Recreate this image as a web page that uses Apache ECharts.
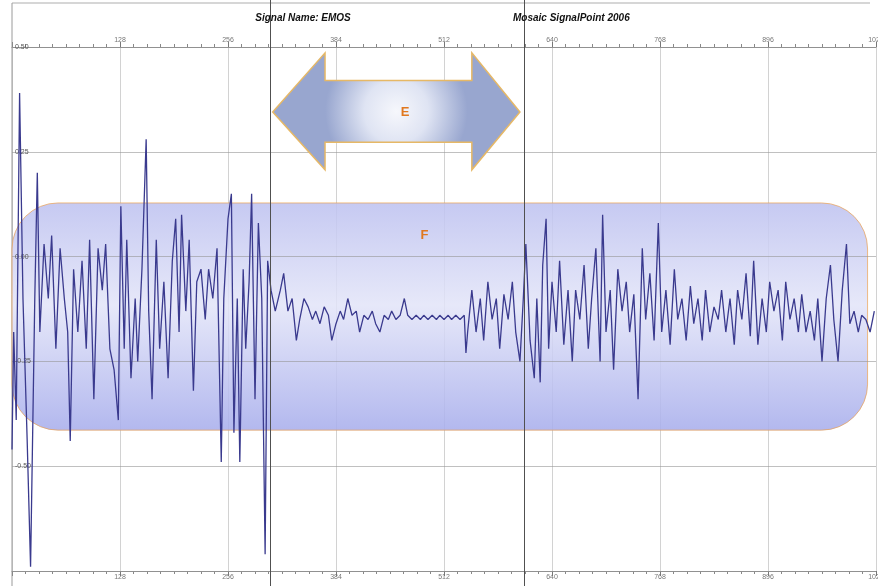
<!DOCTYPE html>
<html><head><meta charset="utf-8">
<script src="https://cdn.jsdelivr.net/npm/echarts@6/dist/echarts.min.js"></script>
<style>html,body{margin:0;padding:0;background:#fff}#c{width:878px;height:586px}</style>
</head><body><div id="c"></div>
<script>
// ---- data ----
const sampleIndex = [
  0,2,5,9,13,18,22,27,30,33,38,43,47,52,57,62,66,69,73,78,83,88,92,97,102,107,111,116,121,126,
  129,133,136,141,146,149,154,159,162,166,171,175,180,185,190,194,198,201,206,210,215,219,224,229,233,238,243,248,251,256,
  260,263,267,270,274,277,281,284,288,292,296,300,303,307,
  312,318,322,327,332,337,341,346,351,356,360,365,370,375,379,384,389,393,398,403,408,412,417,422,427,431,436,441,446,450,
  455,460,465,469,474,479,484,488,493,498,503,507,512,517,521,526,531,536,538,540,545,550,555,559,564,569,574,578,583,588,
  593,597,602,
  606,609,614,619,622,626,629,633,636,640,645,649,654,659,664,668,673,678,683,687,692,697,700,704,709,713,718,723,728,732,
  737,742,747,751,756,761,766,770,775,780,785,789,794,799,804,808,813,818,822,827,832,837,841,846,851,856,860,865,870,875,
  879,884,889,894,898,903,908,913,917,922,927,932,936,941,946,951,955,960,965,970,974,979,984,989,993,998,1003,1007,1012,1017,
  1022
];
const amplitude = [
  -0.46,-0.18,-0.39,0.39,-0.10,-0.44,-0.74,-0.10,0.20,-0.18,0.03,-0.10,0.05,-0.22,0.02,-0.10,-0.18,-0.44,-0.03,-0.18,
  -0.01,-0.22,0.04,-0.34,0.02,-0.08,0.03,-0.22,-0.27,-0.39,0.12,-0.22,0.04,-0.29,-0.10,-0.25,-0.03,0.28,-0.13,-0.34,
  0.04,-0.22,-0.06,-0.29,-0.01,0.09,-0.18,0.10,-0.13,0.04,-0.32,-0.06,-0.03,-0.15,-0.03,-0.10,0.02,-0.49,-0.10,0.09,
  0.15,-0.42,-0.10,-0.49,-0.03,-0.22,-0.06,0.15,-0.34,0.08,-0.10,-0.71,-0.01,-0.08,
  -0.13,-0.08,-0.04,-0.13,-0.10,-0.20,-0.15,-0.10,-0.12,-0.15,-0.13,-0.16,-0.12,-0.14,-0.20,-0.16,-0.13,-0.15,-0.10,-0.14,
  -0.13,-0.18,-0.14,-0.15,-0.13,-0.16,-0.18,-0.14,-0.15,-0.13,-0.15,-0.14,-0.10,-0.14,-0.15,-0.14,-0.15,-0.14,-0.15,-0.14,
  -0.15,-0.14,-0.15,-0.14,-0.15,-0.14,-0.15,-0.14,-0.23,-0.18,-0.08,-0.18,-0.10,-0.20,-0.06,-0.15,-0.10,-0.22,-0.09,-0.15,
  -0.06,-0.18,-0.25,
  -0.10,0.03,-0.20,-0.29,-0.10,-0.30,-0.02,0.09,-0.22,-0.06,-0.18,-0.01,-0.21,-0.08,-0.25,-0.08,-0.15,-0.02,-0.22,-0.10,
  0.02,-0.25,0.10,-0.18,-0.08,-0.27,-0.03,-0.13,-0.06,-0.18,-0.09,-0.34,0.02,-0.15,-0.04,-0.20,0.08,-0.18,-0.08,-0.21,
  -0.03,-0.15,-0.10,-0.20,-0.07,-0.16,-0.10,-0.20,-0.08,-0.18,-0.12,-0.15,-0.08,-0.18,-0.10,-0.21,-0.08,-0.15,-0.04,-0.19,
  -0.01,-0.21,-0.10,-0.18,-0.06,-0.13,-0.08,-0.20,-0.06,-0.15,-0.10,-0.18,-0.09,-0.18,-0.13,-0.20,-0.10,-0.25,-0.10,-0.02,
  -0.15,-0.25,-0.08,0.03,-0.16,-0.13,-0.18,-0.14,-0.15,-0.18,
  -0.13
];
const xMin = 0, xMax = 1024, xStep = 128;
const yMin = -0.75, yMax = 0.5, yStep = 0.25;
const cursorSamples = [306, 607];
const headerLeft = 'Signal Name: EMOS';
const headerRight = 'Mosaic SignalPoint 2006';
const labelE = 'E', labelF = 'F';
// annotation extents in data units
const regionF = {x0: 0, x1: 1014, yTop: 0.128, yBot: -0.414, labelX: 489, labelY: 0.05};
const arrowE = {tipL: 309, headL: 371, headR: 545, tipR: 602, yMid: 0.345, yHeadTop: 0.486, yHeadBot: 0.207, yBodyTop: 0.42, yBodyBot: 0.273, labelX: 466};

const chart = echarts.init(document.getElementById('c'), null, {renderer: 'canvas'});
const data = sampleIndex.map((s, i) => [s, amplitude[i]]);

function xAxisCfg(pos, grid) {
  return {
    type: 'value', position: pos, min: xMin, max: xMax, interval: xStep,
    axisLine: {show: true, onZero: false, lineStyle: {color: '#8a8a8a', width: 1}},
    axisTick: {show: true, length: 5, lineStyle: {color: '#777'}},
    minorTick: {show: true, splitNumber: 8, length: 3, lineStyle: {color: '#888'}},
    axisLabel: {show: true, fontSize: 7, color: '#777', margin: 3, fontFamily: 'Liberation Sans',
      formatter: v => (v === 0 ? '' : String(v))},
    splitLine: {show: grid, lineStyle: {color: '#d2d2d2', width: 1}}
  };
}

chart.setOption({
  animation: false,
  backgroundColor: '#ffffff',
  grid: {left: 12, right: 2, top: 47, bottom: 15, containLabel: false, outerBoundsMode: 'none'},
  xAxis: [xAxisCfg('bottom', true), xAxisCfg('top', false)],
  yAxis: {
    type: 'value', min: yMin, max: yMax, interval: yStep, z: 3,
    axisLine: {show: false}, axisTick: {show: false},
    axisLabel: {inside: true, fontSize: 7, color: '#555', margin: 3, fontFamily: 'Liberation Sans',
      formatter: v => (v <= yMin + 1e-9 ? '' : v.toFixed(2))},
    splitLine: {show: true, lineStyle: {color: 'rgba(150,150,150,0.6)', width: 1}}
  },
  series: [{
    type: 'line', data: data, xAxisIndex: 0, yAxisIndex: 0,
    symbol: 'none', showSymbol: false, z: 5,
    lineStyle: {color: '#3a3a8e', width: 1.3}
  }]
});

function px(x, y) { return chart.convertToPixel({gridIndex: 0}, [x, y]); }

const W = 878, H = 586;
const g = [];
// top border & left border
g.push({type: 'line', z: 1, silent: true, shape: {x1: px(0,0)[0], y1: 3, x2: W - 8, y2: 3}, style: {stroke: '#c8c8c8', lineWidth: 1.5}});
g.push({type: 'line', z: 1, silent: true, shape: {x1: px(0,0)[0], y1: 3, x2: px(0,0)[0], y2: H}, style: {stroke: '#9a9a9a', lineWidth: 1}});

// region F rounded rect
{
  const a = px(regionF.x0, regionF.yTop), b = px(regionF.x1, regionF.yBot);
  g.push({type: 'rect', z: 2, silent: true,
    shape: {x: a[0], y: a[1], width: b[0] - a[0], height: b[1] - a[1], r: 46},
    style: {
      fill: new echarts.graphic.LinearGradient(0, 0, 0, 1, [
        {offset: 0, color: 'rgba(190,194,240,0.88)'},
        {offset: 0.45, color: 'rgba(226,228,248,0.85)'},
        {offset: 1, color: 'rgba(168,174,236,0.88)'}
      ]),
      stroke: 'rgba(235,160,80,0.7)', lineWidth: 1
    }});
  const t = px(regionF.labelX, regionF.labelY);
  g.push({type: 'text', z: 3, silent: true, x: t[0], y: t[1],
    style: {text: labelF, fill: '#e07820', font: 'bold 13px "Liberation Sans"', align: 'center', verticalAlign: 'middle'}});
}

// arrow E
{
  const A = arrowE;
  const pts = [
    px(A.tipL, A.yMid), px(A.headL, A.yHeadTop), px(A.headL, A.yBodyTop), px(A.headR, A.yBodyTop),
    px(A.headR, A.yHeadTop), px(A.tipR, A.yMid), px(A.headR, A.yHeadBot), px(A.headR, A.yBodyBot),
    px(A.headL, A.yBodyBot), px(A.headL, A.yHeadBot)
  ];
  g.push({type: 'polygon', z: 6, silent: true, shape: {points: pts},
    style: {
      fill: new echarts.graphic.RadialGradient(0.5, 0.5, 0.6, [
        {offset: 0, color: '#f6f7fc'},
        {offset: 0.45, color: '#dfe4f3'},
        {offset: 1, color: '#98a6cf'}
      ]),
      stroke: '#e6b866', lineWidth: 1.5
    }});
  const t = px(A.labelX, A.yMid);
  g.push({type: 'text', z: 7, silent: true, x: t[0], y: t[1],
    style: {text: labelE, fill: '#e07820', font: 'bold 13px "Liberation Sans"', align: 'center', verticalAlign: 'middle'}});
}

// cursor lines
cursorSamples.forEach(s => {
  const x = Math.round(px(s, 0)[0]) + 0.5;
  g.push({type: 'line', z: 8, silent: true, shape: {x1: x, y1: 0, x2: x, y2: H}, style: {stroke: '#505050', lineWidth: 1}});
});

// header texts
g.push({type: 'text', z: 9, silent: true, x: 303, y: 18,
  style: {text: headerLeft, fill: '#111', font: 'italic bold 10px "Liberation Sans"', align: 'center', verticalAlign: 'middle'}});
g.push({type: 'text', z: 9, silent: true, x: 513, y: 18,
  style: {text: headerRight, fill: '#111', font: 'italic bold 10px "Liberation Sans"', align: 'left', verticalAlign: 'middle'}});

chart.setOption({graphic: {elements: g}});
</script>
</body></html>
